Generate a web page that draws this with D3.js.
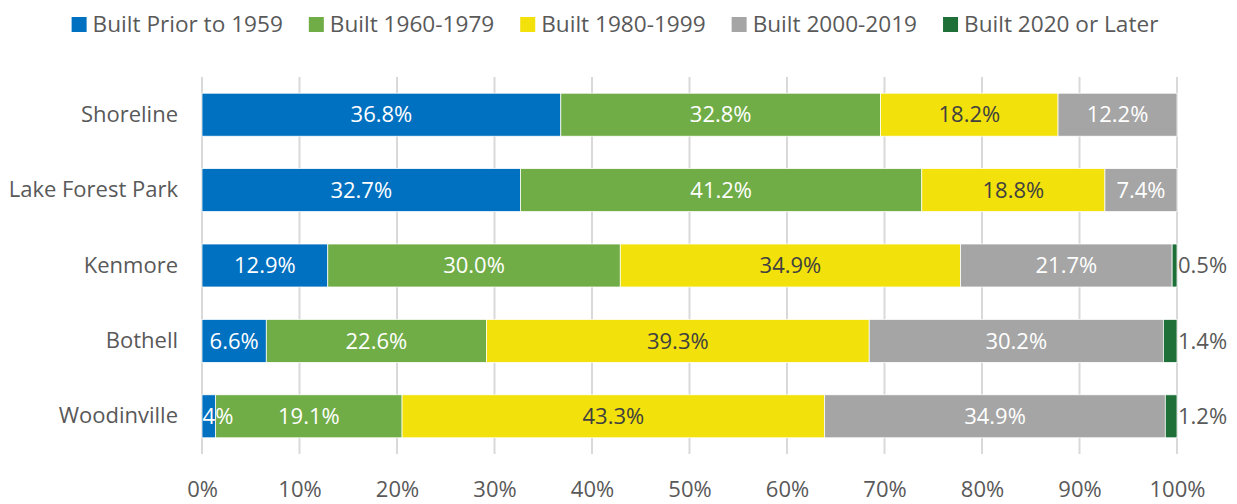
<!DOCTYPE html>
<html>
<head>
<meta charset="utf-8">
<script src="https://cdn.jsdelivr.net/npm/d3@7"></script>
<style>
  body { margin: 0; background: #fff; }
  svg text { font-family: "Open Sans", "Noto Sans", sans-serif; }
</style>
</head>
<body>
<div id="chart"></div>
<script>
// data
const cities = ['Shoreline', 'Lake Forest Park', 'Kenmore', 'Bothell', 'Woodinville'];
const seriesNames = ['Built Prior to 1959', 'Built 1960-1979', 'Built 1980-1999', 'Built 2000-2019', 'Built 2020 or Later'];
const builtPrior1959 = [36.8, 32.7, 12.9, 6.6, 1.4];
const built1960_1979 = [32.8, 41.2, 30.0, 22.6, 19.1];
const built1980_1999 = [18.2, 18.8, 34.9, 39.3, 43.3];
const built2000_2019 = [12.2, 7.4, 21.7, 30.2, 34.9];
const built2020Later = [0, 0, 0.5, 1.4, 1.2];
const xTicks = [0, 0.1, 0.2, 0.3, 0.4, 0.5, 0.6, 0.7, 0.8, 0.9, 1];

const colors = ['#0070c0', '#70ad47', '#f2e10a', '#a5a5a5', '#1e7038'];
const labelColors = ['#fff', '#fff', '#404040', '#fff', '#595959'];
const seriesValues = [builtPrior1959, built1960_1979, built1980_1999, built2000_2019, built2020Later];

const width = 1237, height = 504;
const margin = { top: 77, right: 60, bottom: 50, left: 202 };
const fontSize = 22;

const rows = cities.map((c, i) => {
  const r = { city: c };
  seriesNames.forEach((s, j) => { r[s] = seriesValues[j][i]; });
  return r;
});

const svg = d3.select('#chart').append('svg')
  .attr('width', width)
  .attr('height', height);

const x = d3.scaleLinear()
  .domain([0, 1])
  .range([margin.left, width - margin.right]);

const y = d3.scaleBand()
  .domain(cities)
  .range([margin.top, height - margin.bottom])
  .paddingInner(0.43)
  .paddingOuter(0.215);

// gridlines
svg.append('g')
  .selectAll('line')
  .data(xTicks)
  .join('line')
  .attr('x1', d => x(d))
  .attr('x2', d => x(d))
  .attr('y1', margin.top)
  .attr('y2', height - margin.bottom)
  .attr('stroke', '#d9d9d9')
  .attr('stroke-width', 2);

// x axis labels
const xAxis = svg.append('g')
  .attr('transform', `translate(0, ${height - margin.bottom})`)
  .call(d3.axisBottom(x).tickValues(xTicks).tickFormat(d3.format('.0%')).tickSize(0).tickPadding(27));
xAxis.select('.domain').remove();
xAxis.selectAll('text')
  .attr('fill', '#595959')
  .style('font-size', fontSize + 'px');

// y axis labels
const yAxis = svg.append('g')
  .attr('transform', `translate(${margin.left}, 0)`)
  .call(d3.axisLeft(y).tickSize(0).tickPadding(24));
yAxis.select('.domain').remove();
yAxis.selectAll('text')
  .attr('fill', '#595959')
  .style('font-size', fontSize + 'px');

// stacked bars
const stacked = d3.stack()
  .keys(seriesNames)
  .offset(d3.stackOffsetExpand)(rows);

const groups = svg.append('g')
  .selectAll('g.series')
  .data(stacked)
  .join('g')
  .classed('series', true)
  .attr('fill', (d, i) => colors[i]);

groups.selectAll('rect')
  .data(d => d)
  .join('rect')
  .attr('x', d => x(d[0]))
  .attr('y', d => y(d.data.city))
  .attr('width', d => x(d[1]) - x(d[0]))
  .attr('height', y.bandwidth())
  .attr('stroke', '#fff')
  .attr('stroke-width', 0.75);

// data labels
stacked.forEach((s, i) => {
  const last = i === stacked.length - 1;
  svg.append('g')
    .selectAll('text')
    .data(s.filter(d => d.data[s.key] > 0))
    .join('text')
    .attr('x', d => last ? x(d[1]) + 1 : (x(d[0]) + x(d[1])) / 2)
    .attr('y', d => y(d.data.city) + y.bandwidth() / 2)
    .attr('dy', '0.35em')
    .attr('text-anchor', last ? 'start' : 'middle')
    .attr('fill', labelColors[i])
    .style('font-size', fontSize + 'px')
    .text(d => d3.format('.1f')(d.data[s.key]) + '%');
});

// legend, centred near the middle of the page
const legend = svg.append('g').attr('transform', 'translate(0, 24.5)');
const items = legend.selectAll('g')
  .data(seriesNames)
  .join('g');
items.append('rect')
  .attr('y', -7.5)
  .attr('width', 15)
  .attr('height', 15)
  .attr('fill', (d, i) => colors[i]);
items.append('text')
  .attr('x', 21)
  .attr('dy', '0.35em')
  .attr('fill', '#595959')
  .style('font-size', '22.6px')
  .text(d => d);

const gap = 26;
let cursor = 0;
const offsets = [];
items.each(function() {
  offsets.push(cursor);
  cursor += 21 + this.querySelector('text').getComputedTextLength() + gap;
});
const total = cursor - gap;
const start = 615 - total / 2;
items.attr('transform', (d, i) => `translate(${start + offsets[i]}, 0)`);
</script>
</body>
</html>
